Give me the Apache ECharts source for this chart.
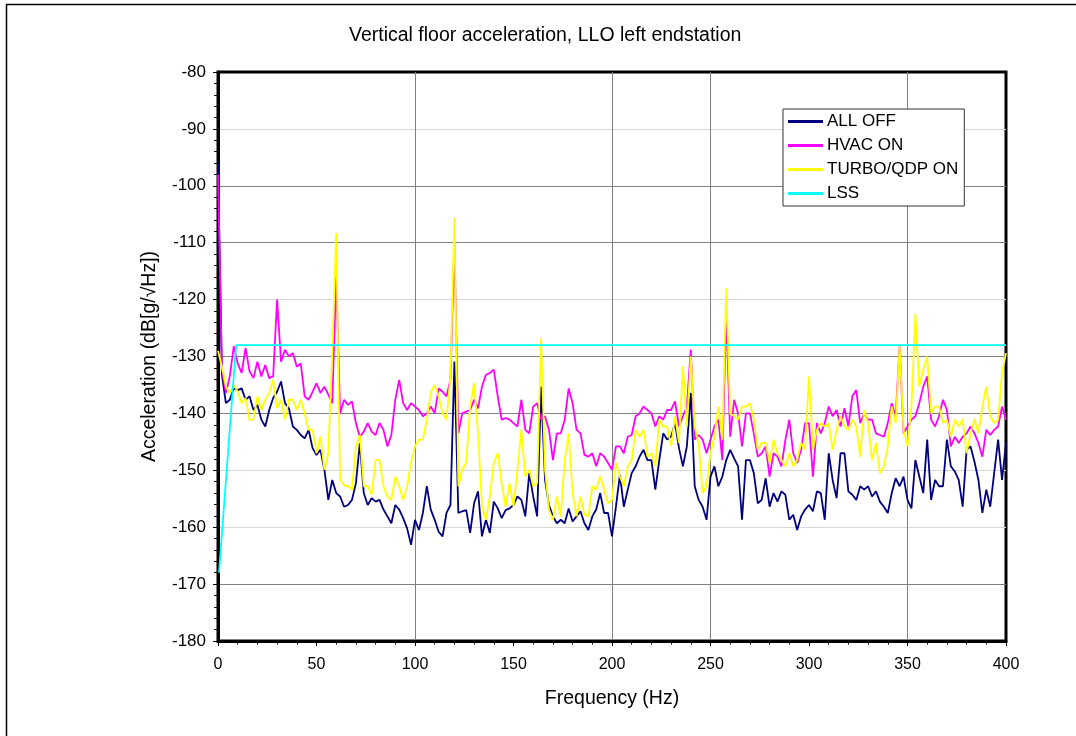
<!DOCTYPE html>
<html>
<head>
<meta charset="utf-8">
<title>Vertical floor acceleration, LLO left endstation</title>
<script src="https://cdn.jsdelivr.net/npm/echarts@6/dist/echarts.min.js"></script>
<style>
  html, body { margin: 0; padding: 0; background: #fff; }
  #chart { width: 1076px; height: 736px; }
</style>
</head>
<body>
<div id="chart"></div>
<script>
// spectra, one value per 2 Hz bin (0..400 Hz)
const freqHz = Array.from({ length: 201 }, (_, i) => i * 2);

const allOff = [
  -96, -133.2, -138.2, -137.6, -135.6, -135.9, -135.6, -137.6, -137, -139.4,
  -138.5, -141.1, -142.3, -139.4, -137.3, -136.2, -134.4, -138.2, -139.1, -142.3,
  -142.9, -143.8, -144.4, -142.9, -146.1, -147.3, -146.4, -149.9, -155.2, -151.7,
  -154, -154.6, -156.4, -156.1, -155.2, -152.3, -145.2, -154, -156.1, -154.9,
  -155.5, -155.2, -156.9, -158.1, -159.3, -156.1, -156.9, -158.4, -160.2, -163.1,
  -158.7, -160.5, -157.5, -152.8, -156.9, -158.7, -160.8, -161.6, -157.5, -156.1,
  -130.9, -157.5, -157.2, -157, -161, -155.8, -153.7, -161.6, -158.7, -161,
  -155.5, -156.7, -158.4, -157, -156.7, -156.1, -154.6, -155.2, -158.1, -150.5,
  -154.6, -158.1, -135.3, -151.7, -156.1, -158.1, -159.3, -158.7, -159.3, -156.7,
  -159, -158.1, -157.2, -159.3, -160.5, -158.1, -156.9, -154, -157.5, -157.5,
  -161.6, -156.4, -150.8, -156.4, -153.4, -150.5, -149.3, -147.6, -146.4, -148.2,
  -148.2, -153.4, -148.2, -143.5, -144.6, -144.1, -141.7, -146.1, -149.3, -145.8,
  -136.4, -152.8, -155.2, -156.4, -158.7, -151.1, -149.3, -152.8, -151.1, -148.2,
  -146.4, -147.9, -149.3, -158.7, -148.2, -148.2, -150.5, -155.8, -155.2, -151.4,
  -156.4, -154, -155.5, -153.7, -154.3, -158.7, -157.8, -160.5, -158.1, -156.9,
  -156.1, -157.2, -153.7, -154, -158.7, -147, -151.7, -154.9, -147, -147,
  -153.7, -154.3, -155.2, -152.8, -153.4, -152.8, -154.6, -153.7, -155.5, -156.4,
  -157.5, -154, -151.4, -152.8, -151.1, -155.2, -156.7, -148.2, -151.1, -154,
  -144.6, -155.2, -151.7, -152.8, -152.8, -144.6, -149.3, -150.2, -151.7, -156.4,
  -146.4, -145.8, -148.5, -151.7, -157.5, -153.4, -156.4, -150.5, -144.6, -151.7,
  -145.2
];

const hvacOn = [
  -98, -132.3, -136.4, -133.5, -128.2, -131.2, -132.9, -128.5, -132.6, -133.8,
  -130.9, -133.5, -131.5, -133.8, -133.5, -120, -130.9, -128.8, -130, -129.4,
  -131.8, -131.2, -137, -137.6, -136.2, -134.7, -136.4, -135.3, -136.7, -138.2,
  -116, -140, -137.6, -138.5, -137.9, -141.7, -144.1, -143.2, -141.7, -143.2,
  -143.8, -141.7, -142.9, -145.8, -143.8, -137.6, -134.1, -138.2, -139.4, -138.2,
  -138.8, -139.4, -140.5, -140, -138.8, -140, -135.6, -136.2, -137, -134.1,
  -110, -143.5, -140, -139.7, -139.4, -137.6, -139.1, -135.3, -133.2, -132.9,
  -132.3, -137, -141.1, -140.8, -141.1, -141.7, -142.3, -137.6, -142.9, -143.5,
  -138.8, -138.2, -141.1, -140.5, -142.9, -148.2, -143.5, -143.5, -141.1, -135.6,
  -138.2, -142.9, -143.5, -147.3, -147.6, -147, -149.3, -147, -147.6, -148.7,
  -149.9, -145.8, -145.8, -147, -144.1, -143.8, -140.5, -140, -138.8, -139.4,
  -140, -142.3, -140.5, -141.1, -139.4, -139.4, -137.9, -142.3, -140.5, -138.8,
  -128.8, -144.6, -143.8, -144.6, -147, -144.6, -142.3, -141.1, -148.2, -122,
  -144.1, -137.6, -140, -145.8, -140, -140, -143.5, -147.6, -147, -145.8,
  -151.1, -147, -147.6, -149.3, -144.7, -141.1, -147, -148.7, -146.4, -141.7,
  -141.7, -151.1, -141.7, -143.5, -141.7, -138.8, -140.5, -139.4, -142.3, -139.1,
  -142.3, -137, -135.9, -141.7, -140, -141.1, -141.1, -143.5, -143.8, -144.1,
  -141.7, -138.2, -140.5, -128.2, -143.5, -142.3, -141.1, -140.5, -138.2, -135.3,
  -133.5, -141.1, -142.3, -140.5, -137.6, -139.4, -145.8, -144.1, -145.2, -144.1,
  -143.5, -142.3, -143.5, -145.2, -147.6, -142.9, -143.8, -142.9, -142.3, -138.8,
  -141.1
];

const turboOn = [
  -129, -131.8, -135.3, -136.4, -135, -136.2, -138.2, -137.3, -141.1, -141.1,
  -137, -139.4, -137.6, -136.4, -134.1, -139.1, -137.6, -141.1, -137.6, -137.6,
  -139.4, -137.6, -140, -142.9, -142.9, -147, -144.1, -149.9, -147, -129.4,
  -108.3, -151.7, -152.6, -152.8, -153.4, -145.8, -143.8, -152.8, -152.8, -154.3,
  -148.2, -148.2, -152.8, -154.6, -155.2, -151.1, -152.8, -155.2, -152.8, -148.7,
  -145.8, -144.6, -144.6, -141.1, -136.4, -135, -137, -140, -141.1, -133.5,
  -105.6, -152.8, -149.9, -148.7, -138.8, -134.7, -143.5, -156.4, -158.7, -154.6,
  -148.7, -147, -152.3, -156.4, -152.3, -156.4, -149.9, -142.9, -151.1, -149.9,
  -152.8, -152.3, -126.8, -149.9, -156.9, -158.7, -154.6, -158.1, -148.2, -143.5,
  -154, -158.1, -154.6, -157.8, -158.1, -152.8, -153.4, -151.1, -153.4, -155.8,
  -155.2, -148.7, -151.1, -152.8, -149.3, -148.2, -142.9, -144.1, -142.9, -147.6,
  -147, -149.3, -141.1, -142.3, -142.3, -145.8, -140.5, -145.2, -131.8, -142.3,
  -130, -142.3, -145.5, -154, -152.8, -147, -144.1, -138.8, -144.6, -118,
  -140, -140.5, -141.1, -138.8, -138.8, -138.2, -141.1, -146.4, -145.2, -145.2,
  -148.7, -144.6, -147, -148.2, -149.3, -147, -149.3, -148.2, -145.2, -146.4,
  -133.5, -146.4, -142.9, -141.7, -142.3, -141.7, -146.4, -142.9, -140.5, -142.3,
  -142.9, -141.1, -142.3, -147.6, -139.4, -141.7, -148.2, -145.2, -150.5, -149.3,
  -145.8, -138.8, -141.7, -128.2, -142.9, -145.8, -138.8, -122.5, -135.3, -132.3,
  -130, -140, -138.8, -138.8, -141.7, -141.1, -144.1, -141.1, -142.3, -141,
  -147, -143.5, -141, -143.5, -138.8, -135.3, -140.5, -141.7, -141.1, -132.9,
  -129.4
];

// LSS requirement curve
const lssFreq = [0.5, 9.2, 400];
const lssLevel = [-168, -128, -128];

const seriesNames = ['ALL OFF', 'HVAC ON', 'TURBO/QDP ON', 'LSS'];
const seriesColors = ['#000080', '#ff00ff', '#ffff00', '#00ffff'];

const FONT = "'Liberation Sans', Arial, sans-serif";

function lineSeries(idx, xs, ys) {
    return {
        name: seriesNames[idx],
        type: 'line',
        data: xs.map((f, i) => [f, ys[i]]),
        symbol: 'none',
        showSymbol: false,
        lineStyle: { color: seriesColors[idx], width: 1.8 },
        itemStyle: { color: seriesColors[idx] },
        emphasis: { disabled: true },
        animation: false
    };
}

const dark = '#7f7f7f', light = '#d6d6d6', none = 'rgba(0,0,0,0)';

const option = {
    backgroundColor: '#fff',
    textStyle: { fontFamily: FONT },
    title: {
        text: 'Vertical floor acceleration, LLO left endstation',
        left: 349,
        top: 26,
        padding: 0,
        textStyle: { fontFamily: FONT, fontSize: 19.5, fontWeight: 'normal', color: '#000' }
    },
    legend: {
        data: seriesNames,
        orient: 'vertical',
        left: 783,
        top: 109,
        padding: [4, 6, 4, 5],
        itemGap: 7,
        itemWidth: 35,
        itemHeight: 3,
        icon: 'rect',
        backgroundColor: '#fff',
        borderColor: '#333',
        borderWidth: 1,
        borderRadius: 0,
        textStyle: { fontFamily: FONT, fontSize: 17, color: '#000', lineHeight: 17, padding: [0, 0, 0, -1] },
        selectedMode: false
    },
    grid: {
        left: 218,
        top: 72,
        width: 788,
        height: 569,
        show: true,
        borderColor: '#000',
        borderWidth: 3,
        containLabel: false
    },
    xAxis: {
        type: 'value',
        min: 0,
        max: 400,
        interval: 50,
        name: 'Frequency (Hz)',
        nameLocation: 'middle',
        nameGap: 48,
        nameTextStyle: { fontFamily: FONT, fontSize: 19.5, color: '#000' },
        axisLine: { show: true, onZero: false, lineStyle: { color: '#000', width: 3 } },
        axisTick: { show: true, inside: false, length: 5, lineStyle: { color: '#000', width: 1 } },
        minorTick: { show: true, splitNumber: 5, length: 3.5, lineStyle: { color: '#000', width: 1 } },
        axisLabel: { fontFamily: FONT, fontSize: 16, color: '#000', margin: 16 },
        splitLine: { show: true, lineStyle: { width: 1, color: [none, none, dark, none, dark, dark, none, dark, none] } },
        minorSplitLine: { show: false }
    },
    yAxis: {
        type: 'value',
        min: -180,
        max: -80,
        interval: 10,
        name: 'Acceleration (dB[g/√Hz])',
        nameLocation: 'middle',
        nameGap: 58,
        nameTextStyle: { fontFamily: FONT, fontSize: 19.5, color: '#000' },
        axisLine: { show: true, onZero: false, lineStyle: { color: '#000', width: 3 } },
        axisTick: { show: true, inside: false, length: 5, lineStyle: { color: '#000', width: 1 } },
        minorTick: { show: true, splitNumber: 5, length: 4, lineStyle: { color: '#000', width: 1 } },
        axisLabel: { fontFamily: FONT, fontSize: 17, color: '#000', margin: 12 },
        splitLine: { show: true, lineStyle: { width: 1, color: [none, dark, light, light, dark, dark, light, dark, dark, light, none] } },
        minorSplitLine: { show: false }
    },
    graphic: [{
        type: 'rect',
        silent: true,
        z: -10,
        shape: { x: 6.5, y: 4.5, width: 1200, height: 1000 },
        style: { fill: null, stroke: '#000', lineWidth: 1.5 }
    }],
    series: [
        lineSeries(0, freqHz, allOff),
        lineSeries(1, freqHz, hvacOn),
        lineSeries(2, freqHz, turboOn),
        lineSeries(3, lssFreq, lssLevel)
    ]
};

const myChart = echarts.init(document.getElementById('chart'), null, { renderer: 'canvas' });
myChart.setOption(option);
</script>
</body>
</html>
